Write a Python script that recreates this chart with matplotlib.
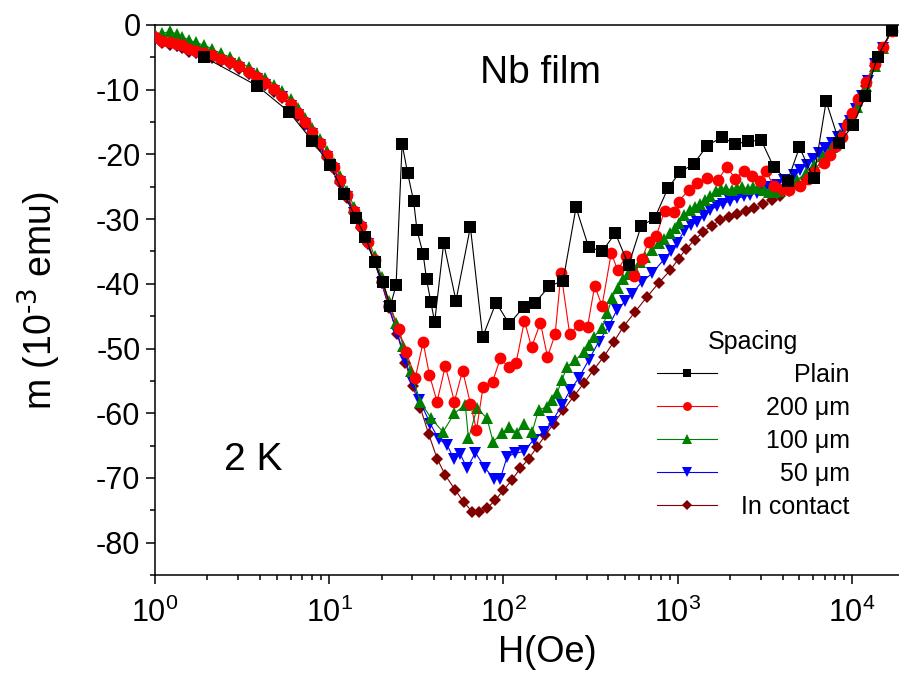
import numpy as np
import matplotlib
matplotlib.use("Agg")
import matplotlib.pyplot as plt
from matplotlib.ticker import MultipleLocator, LogLocator
from matplotlib.offsetbox import VPacker

plt.rcParams["font.family"] = ["Liberation Sans", "DejaVu Sans"]
plt.rcParams["mathtext.default"] = "regular"
plt.rcParams["axes.unicode_minus"] = False

# (H in Oe, m in 1e-3 emu) for each spacing
plain = [
    (1.9, -4.9), (3.86, -9.4), (5.86, -13.4), (8.0, -17.9), (10.1, -21.6),
    (12.1, -26.1), (14.3, -29.9), (16.1, -32.7), (18.2, -36.7), (20.3, -39.7),
    (22.4, -43.5), (24.2, -40.2), (26.2, -18.4), (28.2, -22.9), (30.5, -27.2),
    (31.9, -31.7), (34.6, -35.4), (36.2, -39.3), (38.3, -42.8), (40.3, -45.9),
    (45.4, -33.7), (53.4, -42.6), (64.6, -31.2), (76, -48.2), (90.7, -42.9),
    (108, -46.2), (130.6, -43.6), (152, -42.9), (183, -40.4), (220, -39.5),
    (261, -28.2), (308, -34.3), (368, -35.0), (439, -32.2), (523, -37.1),
    (618, -31.0), (737, -29.9), (880, -25.2), (1035, -22.7), (1234, -21.5),
    (1472, -18.7), (1795, -17.3), (2122, -18.4), (2532, -18.0), (3017, -17.8),
    (3551, -21.9), (4272, -24.1), (5003, -18.9), (6025, -23.7), (7116, -11.8),
    (8488, -18.2), (10150, -15.5), (11940, -11.0), (14040, -4.9), (16980, -0.7),
]

sp200 = [
    (1.0, -1.8), (1.1, -2.4), (1.22, -2.7), (1.33, -2.9), (1.43, -3.1),
    (1.56, -3.7), (1.71, -4.0), (1.9, -4.3), (2.13, -4.7), (2.38, -5.2),
    (2.71, -5.7), (3.03, -6.4), (3.45, -7.2), (3.86, -8.1), (4.3, -8.9),
    (4.81, -9.9), (5.37, -10.9), (6.0, -12.2), (6.6, -13.6), (7.3, -15.0),
    (8.0, -16.6), (8.8, -18.3), (9.7, -20.1), (10.6, -21.9), (11.6, -24.0),
    (12.7, -26.3), (13.9, -28.7), (15.2, -31.0), (16.6, -33.5), (18.2, -36.3),
    (20.0, -39.5), (22.0, -43.3), (25.0, -47.0), (27.7, -50.6), (31.2, -54.5),
    (34.6, -49.0), (37.6, -54.1), (41.6, -58.2), (46.4, -52.7), (52.3, -58.2),
    (58.3, -53.4), (64.6, -58.5), (70, -62.6), (76.4, -55.9), (86.7, -55.1),
    (96, -51.5), (107, -52.9), (118, -52.3), (132, -45.7), (145, -49.8),
    (163, -46.0), (179, -51.3), (198, -47.8), (214, -38.3), (240, -47.8),
    (270, -46.3), (304, -46.6), (334, -40.3), (368, -43.4), (416, -35.2),
    (452, -37.9), (507, -35.7), (559, -38.8), (624, -36.1), (681, -33.5),
    (754, -32.6), (841, -28.7), (948, -28.9), (1012, -27.3), (1155, -25.5),
    (1290, -24.4), (1472, -23.7), (1694, -24.0), (1918, -21.9), (2141, -23.8),
    (2411, -22.5), (2669, -23.4), (2950, -24.1), (3211, -22.5), (3551, -24.9),
    (3950, -25.3), (4330, -25.5), (5050, -24.9), (5600, -23.8), (6025, -22.7),
    (6875, -21.4), (7516, -20.1), (8100, -18.7), (8770, -17.3), (9400, -15.5),
    (10000, -13.6), (10900, -11.5), (12000, -8.8), (13500, -6.0), (15100, -3.4),
    (16900, -0.9),
]

sp100 = [
    (1.0, -1.4), (1.1, -1.3), (1.22, -1.0), (1.33, -1.4), (1.43, -1.8),
    (1.56, -2.3), (1.71, -2.7), (1.9, -3.1), (2.13, -3.7), (2.38, -4.4),
    (2.71, -5.0), (3.03, -5.7), (3.45, -6.5), (3.86, -7.4), (4.3, -8.2),
    (4.81, -9.2), (5.37, -10.2), (6.0, -11.5), (6.6, -12.9), (7.3, -14.3),
    (8.0, -15.9), (8.8, -17.6), (9.7, -19.4), (10.6, -21.3), (11.6, -23.4),
    (12.7, -25.7), (13.9, -28.1), (15.2, -30.4), (16.6, -32.9), (18.2, -35.7),
    (20.0, -38.9), (22.0, -42.7), (24.2, -46.0), (26.6, -49.6), (29.3, -53.4),
    (33.3, -58.2), (38.5, -60.8), (45, -62.9), (52.3, -60.0), (60.4, -58.7),
    (63, -63.9), (70.6, -59.2), (80.5, -60.8), (87.2, -64.4), (98, -63.1),
    (108, -62.1), (120, -63.1), (131, -61.6), (146, -62.9), (159, -59.5),
    (178, -59.0), (190, -58.0), (203, -56.9), (217, -54.8), (232, -52.8),
    (259, -51.8), (289, -50.5), (308, -49.4), (329, -48.2), (368, -46.9),
    (395, -44.5), (420, -42.2), (452, -40.6), (486, -39.2), (520, -38.5),
    (558, -37.6), (605, -36.7), (652, -35.8), (715, -34.7), (778, -33.7),
    (840, -33.0), (907, -32.2), (960, -31.4), (1012, -30.6), (1090, -29.4),
    (1170, -28.6), (1250, -28.1), (1340, -27.6), (1440, -27.0), (1540, -26.4),
    (1650, -25.7), (1770, -25.3), (1900, -25.3), (2040, -25.5), (2190, -25.2),
    (2350, -25.1), (2520, -25.3), (2700, -25.0), (2900, -25.2), (3110, -25.5),
    (3340, -25.8), (3580, -25.8), (3840, -25.7), (4340, -25.0), (4860, -24.0),
    (5450, -22.8), (6100, -21.6), (6830, -20.2), (7650, -18.8), (8570, -17.2),
    (9600, -15.0), (10750, -12.6), (12000, -9.5), (13500, -6.3), (15100, -3.5),
    (16900, -0.9),
]

sp50 = [
    (1.0, -2.1), (1.1, -2.7), (1.22, -3.0), (1.33, -3.2), (1.43, -3.4),
    (1.56, -4.0), (1.71, -4.3), (1.9, -4.6), (2.13, -5.0), (2.38, -5.5),
    (2.71, -6.0), (3.03, -6.7), (3.45, -7.5), (3.86, -8.4), (4.3, -9.2),
    (4.81, -10.2), (5.37, -11.2), (6.0, -12.5), (6.6, -13.9), (7.3, -15.3),
    (8.0, -16.9), (8.8, -18.6), (9.7, -20.4), (10.6, -22.2), (11.6, -24.3),
    (12.7, -26.6), (13.9, -29.0), (15.2, -31.3), (16.6, -33.8), (18.2, -36.6),
    (20.0, -39.8), (22.0, -43.6), (24.6, -47.6), (27.4, -51.8), (30.1, -55.3),
    (32.8, -57.9), (38, -61.6), (42.5, -64.0), (47.5, -64.9), (51.8, -67.0),
    (56.5, -66.3), (61.8, -68.5), (69, -66.1), (78.7, -68.5), (87.9, -70.1),
    (96, -70.1), (105, -66.7), (117, -66.2), (131, -65.9), (149, -64.1),
    (170, -62.9), (190, -61.3), (217, -58.7), (242, -56.4), (270, -54.6),
    (308, -51.8), (352, -49.0), (401, -46.6), (449, -44.0), (500, -42.7),
    (547, -41.5), (624, -39.7), (712, -38.4), (830, -36.3), (910, -35.0),
    (990, -33.7), (1090, -31.8), (1190, -30.9), (1290, -30.4), (1410, -29.5),
    (1540, -28.6), (1680, -28.0), (1830, -27.6), (2000, -27.2), (2190, -26.8),
    (2390, -26.5), (2610, -26.3), (2850, -25.9), (3110, -25.5), (3400, -25.1),
    (3700, -24.7), (4100, -24.0), (4624, -23.2), (5040, -22.4), (5520, -21.6),
    (5950, -20.7), (6440, -19.8), (7000, -19.0), (7650, -18.2), (8300, -17.3),
    (9000, -16.0), (9700, -14.8), (10500, -13.0), (11400, -10.9), (12400, -8.6),
    (13600, -6.0), (15100, -3.5), (16900, -0.9),
]

contact = [
    (1.0, -2.2), (1.1, -2.8), (1.22, -3.1), (1.33, -3.3), (1.43, -3.5),
    (1.56, -4.1), (1.71, -4.4), (1.9, -4.7), (2.13, -5.1), (2.38, -5.6),
    (2.71, -6.1), (3.03, -6.8), (3.45, -7.6), (3.86, -8.5), (4.3, -9.3),
    (4.81, -10.3), (5.37, -11.3), (6.0, -12.6), (6.6, -14.0), (7.3, -15.4),
    (8.0, -17.0), (8.8, -18.7), (9.7, -20.5), (10.6, -22.3), (11.6, -24.4),
    (12.7, -26.7), (13.9, -29.1), (15.2, -31.4), (16.6, -33.9), (18.2, -36.7),
    (20.0, -39.9), (22.0, -43.7), (24.6, -47.8), (27.4, -52.2), (30.1, -55.8),
    (33.4, -59.2), (37.2, -63.2), (41.6, -67.0), (46.4, -69.6), (53, -71.9),
    (59.1, -73.7), (66, -75.2), (72.8, -75.2), (80.5, -74.7), (89.9, -73.4),
    (100, -71.9), (112, -70.3), (125, -68.5), (140, -67.0), (156, -65.2),
    (174, -63.4), (194, -61.6), (221, -59.5), (253, -57.4), (289, -55.4),
    (329, -53.3), (376, -51.3), (429, -49.0), (489, -46.6), (571, -44.3),
    (667, -42.0), (777, -39.9), (907, -37.9), (1012, -36.1), (1120, -34.6),
    (1250, -33.2), (1400, -32.0), (1570, -31.0), (1760, -30.2), (1970, -29.6),
    (2200, -29.2), (2470, -28.8), (2760, -28.3), (3090, -27.7), (3460, -27.0),
    (3880, -26.4), (4340, -25.6), (4860, -24.8), (5450, -23.8), (6100, -22.4),
    (6830, -20.8), (7650, -19.0), (8570, -17.0), (9600, -14.8), (10750, -12.4),
    (12000, -9.5), (13500, -6.3), (15100, -3.5), (16900, -0.9),
]

labels = ["Plain", "200 \u03bcm", "100 \u03bcm", "50 \u03bcm", "In contact"]
colors = ["#000000", "#ff0000", "#008000", "#0000ff", "#800000"]
markers = ["s", "o", "^", "v", "D"]
sizes = [8, 8.5, 9, 9, 6.5]
zorders = [6, 5, 4, 3, 2]
series = [plain, sp200, sp100, sp50, contact]

fig = plt.figure(figsize=(8.99, 6.80), dpi=100)
W, H = 899, 680
ax = fig.add_axes([155 / W, 105 / H, (939 - 155) / W, 550 / H])

lines = []
for data, lab, c, mk, ms, z in zip(series, labels, colors, markers, sizes, zorders):
    d = np.array(data)
    ln, = ax.plot(d[:, 0], d[:, 1], color=c, marker=mk, ms=ms, mew=0,
                  lw=0.8, label=lab, zorder=z)
    lines.append(ln)

ax.set_xscale("log")
ax.set_xlim(1, 10 ** 4.5)
ax.set_ylim(-85, 0)
ax.yaxis.set_major_locator(MultipleLocator(10))
ax.yaxis.set_minor_locator(MultipleLocator(5))
ax.xaxis.set_major_locator(LogLocator(base=10))
ax.xaxis.set_minor_locator(LogLocator(base=10, subs=np.arange(2, 10)))

ax.spines["right"].set_visible(False)
for s in ax.spines.values():
    s.set_linewidth(1.1)
ax.tick_params(which="both", direction="out", top=False, right=False,
               width=1.1, labelsize=22)
ax.tick_params(which="major", length=6.5, pad=4)
ax.tick_params(which="minor", length=3.5)
ax.tick_params(axis="x", which="major", pad=10)

ax.set_xlabel("H(Oe)", fontsize=26, labelpad=4)
ax.set_ylabel("m (10$^{\\text{-3}}$ emu)", fontsize=27, labelpad=24)

ax.text(541 / W, 1 - 73 / H, "Nb film", transform=fig.transFigure,
        fontsize=28, ha="center", va="center")
ax.text(253 / W, 1 - 460 / H, "2 K", transform=fig.transFigure,
        fontsize=28, ha="center", va="center")

leg = ax.legend(handles=lines, title="Spacing", loc="upper left",
                bbox_to_anchor=(657 / W, 1 - 330 / H),
                bbox_transform=fig.transFigure, frameon=False,
                fontsize=18, title_fontsize=18, handlelength=2.4,
                handletextpad=0.3, labelspacing=0.36, borderpad=0,
                borderaxespad=0, markerscale=0.75)

# right-align the legend labels inside a fixed-width column
for column in leg._legend_handle_box.get_children():
    for row in column.get_children():
        handle_box, text_box = row.get_children()
        right_col = VPacker(children=[text_box], width=125, align="right",
                            pad=0, sep=0)
        right_col.set_figure(fig)
        row._children = [handle_box, right_col]

fig.savefig("out.png", dpi=100)
